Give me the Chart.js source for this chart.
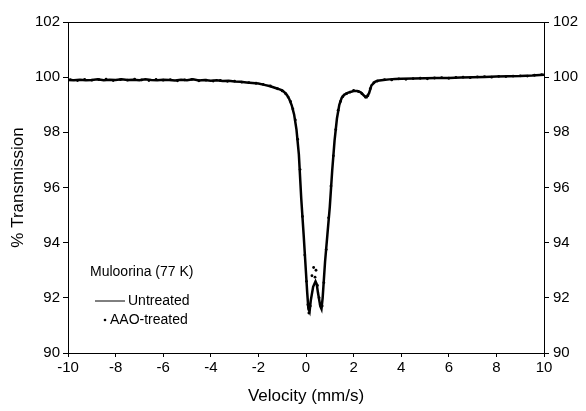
<!DOCTYPE html>
<html>
<head>
<meta charset="utf-8">
<script src="https://cdn.jsdelivr.net/npm/chart.js@4.4.1/dist/chart.umd.min.js"></script>
<style>
  html, body { margin: 0; padding: 0; background: #fff; }
  #wrap { width: 586px; height: 411px; position: relative; }
</style>
</head>
<body>
<div id="wrap"><canvas id="moss"></canvas></div>
<script>
// Untreated spectrum (line)
const untreatedV = [-10, -9.75, -9.5, -9.25, -9, -8.75, -8.5, -8.25, -8, -7.75, -7.5, -7.25, -7, -6.75, -6.5, -6.25, -6, -5.75, -5.5, -5.25, -5, -4.75, -4.5, -4.25, -4, -3.75, -3.5, -3.25, -3, -2.75, -2.5, -2.25, -2, -1.75, -1.5, -1.25, -1, -0.9, -0.8, -0.7, -0.6, -0.5, -0.4, -0.3, -0.2, -0.1, 0, 0.05, 0.1, 0.15, 0.2, 0.3, 0.4, 0.45, 0.5, 0.6, 0.65, 0.7, 0.8, 0.9, 1, 1.1, 1.2, 1.3, 1.4, 1.5, 1.6, 1.75, 2, 2.15, 2.3, 2.45, 2.55, 2.65, 2.75, 2.9, 3, 3.25, 3.5, 3.75, 4, 4.5, 5, 5.5, 6, 6.5, 7, 7.5, 8, 8.5, 9, 9.5, 10];
const untreatedT = [99.90, 99.89, 99.91, 99.89, 99.90, 99.92, 99.89, 99.91, 99.90, 99.92, 99.90, 99.91, 99.89, 99.92, 99.90, 99.89, 99.91, 99.90, 99.88, 99.91, 99.89, 99.92, 99.88, 99.90, 99.87, 99.89, 99.86, 99.87, 99.84, 99.83, 99.81, 99.79, 99.77, 99.72, 99.67, 99.60, 99.52, 99.45, 99.35, 99.20, 98.98, 98.65, 98.10, 97.20, 95.60, 94.30, 92.90, 92.20, 91.60, 91.50, 91.90, 92.40, 92.60, 92.50, 92.20, 91.70, 91.60, 92.00, 93.30, 94.30, 95.30, 96.60, 97.70, 98.50, 99.00, 99.25, 99.36, 99.43, 99.50, 99.50, 99.45, 99.32, 99.28, 99.42, 99.70, 99.83, 99.87, 99.90, 99.92, 99.93, 99.94, 99.95, 99.96, 99.97, 99.97, 99.99, 100.00, 100.01, 100.02, 100.03, 100.04, 100.06, 100.09];

// AAO-treated spectrum (dots)
const aaoV = [-9.9, -9.6, -9.3, -9, -8.7, -8.4, -8.1, -7.8, -7.5, -7.2, -6.9, -6.6, -6.3, -6, -5.7, -5.4, -5.1, -4.8, -4.5, -4.2, -3.9, -3.6, -3.3, -3, -2.7, -2.4, -2.1, -1.8, -1.5, -1.2, -1, -0.85, -0.75, -0.65, -0.55, -0.45, -0.35, -0.25, -0.15, -0.05, 0.02, 0.08, 0.12, 0.18, 0.25, 0.32, 0.38, 0.42, 0.48, 0.55, 0.6, 0.68, 0.75, 0.85, 0.95, 1.05, 1.15, 1.25, 1.35, 1.45, 1.55, 1.7, 1.85, 2, 2.2, 2.35, 2.5, 2.6, 2.7, 2.85, 3, 3.3, 3.6, 3.9, 4.2, 4.5, 4.8, 5.1, 5.4, 5.7, 6, 6.3, 6.6, 6.9, 7.2, 7.5, 7.8, 8.1, 8.4, 8.7, 9, 9.3, 9.6, 9.9];
const aaoT = [99.91, 99.88, 99.92, 99.89, 99.91, 99.93, 99.88, 99.91, 99.89, 99.93, 99.90, 99.88, 99.92, 99.89, 99.91, 99.87, 99.90, 99.92, 99.87, 99.89, 99.86, 99.88, 99.85, 99.86, 99.82, 99.80, 99.78, 99.74, 99.68, 99.58, 99.50, 99.40, 99.28, 99.12, 98.85, 98.45, 97.75, 96.65, 94.95, 93.55, 92.60, 91.75, 91.45, 91.70, 92.80, 93.10, 92.75, 93.00, 92.45, 92.00, 91.75, 91.70, 92.55, 93.75, 94.90, 96.05, 97.15, 98.10, 98.80, 99.12, 99.30, 99.40, 99.46, 99.52, 99.48, 99.40, 99.27, 99.33, 99.58, 99.80, 99.86, 99.91, 99.90, 99.94, 99.92, 99.95, 99.96, 99.94, 99.97, 99.98, 99.96, 99.99, 100.00, 99.98, 100.01, 100.02, 100.00, 100.03, 100.02, 100.04, 100.05, 100.04, 100.07, 100.09];

const velocityTicks = [-10, -8, -6, -4, -2, 0, 2, 4, 6, 8, 10];
const transmissionTicks = [90, 92, 94, 96, 98, 100, 102];

const FONT = "'Liberation Sans', Arial, sans-serif";

// sample name + legend drawn inside the plot box
const insideLegend = {
  id: "insideLegend",
  afterDraw(chart) {
    const { ctx, chartArea: a } = chart;
    ctx.save();
    ctx.fillStyle = "#000";
    ctx.strokeStyle = "#000";
    ctx.font = "14px " + FONT;
    ctx.textBaseline = "middle";
    ctx.fillText("Muloorina (77 K)", a.left + 22, 272);
    ctx.lineWidth = 1;
    ctx.beginPath();
    ctx.moveTo(a.left + 27, 301);
    ctx.lineTo(a.left + 57, 301);
    ctx.stroke();
    ctx.fillText(chart.data.datasets[0].label, a.left + 60, 301);
    ctx.beginPath();
    ctx.arc(a.left + 37, 320, 1.3, 0, Math.PI * 2);
    ctx.fill();
    ctx.fillText(chart.data.datasets[1].label, a.left + 42, 320);
    ctx.restore();
  }
};

const tickOpts = { color: "#000", font: { family: FONT, size: 15 } };

new Chart(document.getElementById("moss"), {
  type: "scatter",
  data: {
    datasets: [
      {
        label: "Untreated",
        data: untreatedV.map((v, i) => ({ x: v, y: untreatedT[i] })),
        showLine: true,
        borderColor: "#000",
        borderWidth: 2.5,
        pointRadius: 0,
        tension: 0
      },
      {
        label: "AAO-treated",
        data: aaoV.map((v, i) => ({ x: v, y: aaoT[i] })),
        showLine: false,
        backgroundColor: "#000",
        borderColor: "#000",
        pointRadius: 1.4,
        pointBorderWidth: 0
      }
    ]
  },
  options: {
    responsive: true,
    maintainAspectRatio: false,
    animation: false,
    layout: { padding: { top: 22, left: 0, right: 0, bottom: 0 } },
    plugins: { legend: { display: false }, tooltip: { enabled: false } },
    scales: {
      x: {
        type: "linear",
        min: -10,
        max: 10,
        afterBuildTicks: axis => { axis.ticks = velocityTicks.map(v => ({ value: v })); },
        afterFit: axis => { axis.height = 58; },
        ticks: { ...tickOpts, padding: 2, maxRotation: 0 },
        grid: { drawOnChartArea: false, drawTicks: true, tickLength: 4, color: "#000" },
        border: { color: "#000", width: 1 },
        title: { display: true, text: "Velocity (mm/s)", color: "#000", font: { family: FONT, size: 17 }, padding: { top: 1 } }
      },
      x2: {
        type: "linear",
        position: "top",
        min: -10,
        max: 10,
        afterFit: axis => { axis.height = 0; },
        ticks: { display: false },
        grid: { drawOnChartArea: false, drawTicks: false },
        border: { color: "#000", width: 1 }
      },
      y: {
        min: 90,
        max: 102,
        afterBuildTicks: axis => { axis.ticks = transmissionTicks.map(v => ({ value: v })); },
        afterFit: axis => { axis.width = 68; },
        ticks: { ...tickOpts, padding: 3 },
        grid: { drawOnChartArea: false, drawTicks: true, tickLength: 5, color: "#000" },
        border: { color: "#000", width: 1 },
        title: { display: true, text: "% Transmission", color: "#000", font: { family: FONT, size: 17 }, padding: { top: 8, bottom: 0 } }
      },
      y2: {
        position: "right",
        min: 90,
        max: 102,
        afterBuildTicks: axis => { axis.ticks = transmissionTicks.map(v => ({ value: v })); },
        afterFit: axis => { axis.width = 42; },
        ticks: { ...tickOpts, padding: 4 },
        grid: { drawOnChartArea: false, drawTicks: true, tickLength: 5, color: "#000" },
        border: { color: "#000", width: 1 }
      }
    }
  },
  plugins: [insideLegend]
});
</script>
</body>
</html>
